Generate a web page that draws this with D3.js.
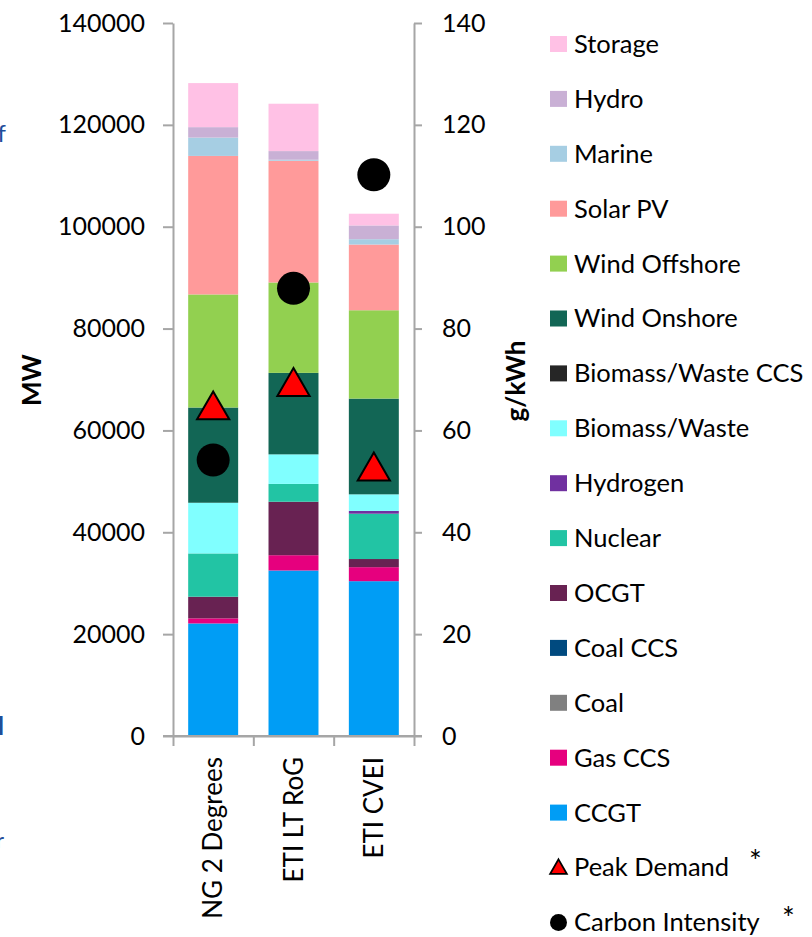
<!DOCTYPE html>
<html>
<head>
<meta charset="utf-8">
<script src="https://cdn.jsdelivr.net/npm/d3@7"></script>
<style>
  html, body { margin: 0; padding: 0; background: #fff; }
  svg { display: block; font-family: Lato, "Open Sans", sans-serif; }
</style>
</head>
<body>
<svg id="chart" width="812" height="937"></svg>
<script>
// ---- data ----
const categories = ["NG 2 Degrees", "ETI LT RoG", "ETI CVEI"];

// series, bottom of stack first
const seriesNames = ["CCGT", "Gas CCS", "Coal", "Coal CCS", "OCGT", "Nuclear", "Hydrogen",
  "Biomass/Waste", "Biomass/Waste CCS", "Wind Onshore", "Wind Offshore", "Solar PV",
  "Marine", "Hydro", "Storage"];
const seriesColors = ["#009df5", "#e6007e", "#808080", "#004a7f", "#682252", "#22c4a4", "#7030a0",
  "#80ffff", "#262626", "#126655", "#92d050", "#ff9a9a",
  "#a6cee3", "#c9b0d5", "#ffc1e5"];

const ccgt       = [22100, 32500, 30400];
const gasCCS     = [1000, 3000, 2750];
const coal       = [0, 0, 0];
const coalCCS    = [0, 0, 0];
const ocgt       = [4250, 10500, 1600];
const nuclear    = [8500, 3500, 8900];
const hydrogen   = [0, 0, 550];
const biomass    = [9950, 5800, 3250];
const biomassCCS = [0, 0, 0];
const windOn     = [18700, 16000, 18800];
const windOff    = [22200, 17750, 17350];
const solarPV    = [27200, 23900, 12900];
const marine     = [3600, 200, 1050];
const hydro      = [2050, 1700, 2700];
const storage    = [8650, 9300, 2300];

const peakDemand      = [64.6, 69.2, 52.6];   // g/kWh axis (right)
const carbonIntensity = [54.2, 87.9, 110.2];  // g/kWh axis (right)

const leftTicks  = [0, 20000, 40000, 60000, 80000, 100000, 120000, 140000];
const rightTicks = [0, 20, 40, 60, 80, 100, 120, 140];

const seriesValues = [ccgt, gasCCS, coal, coalCCS, ocgt, nuclear, hydrogen, biomass,
  biomassCCS, windOn, windOff, solarPV, marine, hydro, storage];

// ---- layout ----
const svg = d3.select("#chart");
const plotLeft = 173, plotRight = 414, plotTop = 23, plotBottom = 736;
const axisColor = "#a6a6a6";
const font = "Lato, 'Open Sans', sans-serif";

const x = d3.scaleBand().domain(categories).range([plotLeft, plotRight])
  .paddingInner(0.378).paddingOuter(0.189);
const y = d3.scaleLinear().domain([0, 140000]).range([plotBottom, plotTop]);
const y2 = d3.scaleLinear().domain([0, 140]).range([plotBottom, plotTop]);

// stack
const rows = categories.map((c, i) => {
  const r = { cat: c };
  seriesNames.forEach((s, j) => r[s] = seriesValues[j][i]);
  return r;
});
const stacked = d3.stack().keys(seriesNames)(rows);
const color = d3.scaleOrdinal().domain(seriesNames).range(seriesColors);

svg.append("g").selectAll("g").data(stacked).join("g")
  .attr("fill", d => color(d.key))
  .selectAll("rect").data(d => d).join("rect")
  .attr("x", d => x(d.data.cat))
  .attr("width", x.bandwidth())
  .attr("y", d => y(d[1]))
  .attr("height", d => Math.max(0, y(d[0]) - y(d[1])));

// left axis
const gL = svg.append("g").attr("transform", `translate(${plotLeft},0)`)
  .call(d3.axisLeft(y).tickValues(leftTicks).tickFormat(d3.format("d"))
    .tickSize(10).tickSizeOuter(0).tickPadding(18));
// right axis
const gR = svg.append("g").attr("transform", `translate(${plotRight},0)`)
  .call(d3.axisRight(y2).tickValues(rightTicks).tickFormat(d3.format("d"))
    .tickSize(8).tickSizeOuter(0).tickPadding(20));
// category boundary ticks
const xb = d3.scaleLinear().domain([0, categories.length]).range([plotLeft, plotRight]);
const gB = svg.append("g").attr("transform", `translate(0,${plotBottom})`)
  .call(d3.axisBottom(xb).tickValues(d3.range(categories.length + 1))
    .tickFormat("").tickSize(10).tickSizeOuter(0));
// category labels
const gC = svg.append("g").attr("transform", `translate(0,${plotBottom})`)
  .call(d3.axisBottom(x).tickSize(0).tickPadding(0));
gC.select(".domain").remove();
gC.selectAll("text")
  .attr("transform", "rotate(-90)")
  .attr("x", -21).attr("y", 0).attr("dy", "0.35em")
  .attr("text-anchor", "end");

[gL, gR, gB, gC].forEach(g => {
  g.selectAll(".domain").attr("stroke", axisColor).attr("stroke-width", 2);
  g.selectAll(".tick line").attr("stroke", axisColor).attr("stroke-width", 2);
  g.selectAll("text").attr("fill", "#000").attr("font-family", font).attr("font-size", 25);
});
gC.selectAll("text").attr("font-size", 26);
// x axis line, joined with the zero ticks
svg.append("line").attr("x1", plotLeft - 10).attr("x2", plotRight + 8)
  .attr("y1", y(0)).attr("y2", y(0)).attr("stroke", axisColor).attr("stroke-width", 2);

// axis titles
svg.append("text").attr("transform", `translate(41,380) rotate(-90)`)
  .attr("text-anchor", "middle").attr("font-family", font).attr("font-weight", "bold")
  .attr("font-size", 26).text("MW");
svg.append("text").attr("transform", `translate(525,381) rotate(-90)`)
  .attr("text-anchor", "middle").attr("font-family", font).attr("font-weight", "bold")
  .attr("font-size", 26).text("g/kWh");

// markers
const tri = d3.symbol().type(d3.symbolTriangle).size(450);
svg.append("g").selectAll("path").data(peakDemand).join("path")
  .attr("d", tri)
  .attr("transform", (d, i) => `translate(${x(categories[i]) + x.bandwidth() / 2},${y2(d) + 3})`)
  .attr("fill", "#ff0000").attr("stroke", "#000").attr("stroke-width", 2).attr("stroke-linejoin", "miter");
svg.append("g").selectAll("circle").data(carbonIntensity).join("circle")
  .attr("cx", (d, i) => x(categories[i]) + x.bandwidth() / 2)
  .attr("cy", d => y2(d))
  .attr("r", 16.5).attr("fill", "#000");

// legend
const legendItems = seriesNames.slice().reverse().map((s) => ({ name: s, type: "rect" }))
  .concat([{ name: "Peak Demand", type: "tri" }, { name: "Carbon Intensity", type: "circle" }]);
const lg = svg.append("g");
legendItems.forEach((it, i) => {
  const cy = 44 + i * 54.9;
  const g = lg.append("g").attr("transform", `translate(0,${cy})`);
  if (it.type === "rect") {
    g.append("rect").attr("x", 550).attr("y", -8).attr("width", 17).attr("height", 16)
      .attr("fill", color(it.name));
  } else if (it.type === "tri") {
    g.append("path").attr("d", d3.symbol().type(d3.symbolTriangle).size(120))
      .attr("transform", "translate(558.5,1.5)")
      .attr("fill", "#ff0000").attr("stroke", "#000").attr("stroke-width", 1.8);
  } else {
    g.append("circle").attr("cx", 558.5).attr("cy", 0).attr("r", 8.5).attr("fill", "#000");
  }
  g.append("text").attr("x", 574).attr("y", 0).attr("dy", "0.35em")
    .attr("font-family", font).attr("font-size", 25.5).attr("fill", "#000").text(it.name);
});
// asterisks
svg.append("text").attr("x", 749).attr("y", 872).attr("font-family", font)
  .attr("font-size", 30).text("*");
svg.append("text").attr("x", 782).attr("y", 929).attr("font-family", font)
  .attr("font-size", 30).text("*");

// cut-off text fragments at left edge
svg.append("text").attr("x", 6).attr("y", 142).attr("text-anchor", "end")
  .attr("font-family", font).attr("font-size", 24).attr("fill", "#1f4e9a").text("of");
svg.append("text").attr("x", -2).attr("y", 735).attr("font-family", font)
  .attr("font-weight", "bold").attr("font-size", 24).attr("fill", "#1f4e9a").text("l");
svg.append("text").attr("x", -4).attr("y", 848).attr("font-family", font)
  .attr("font-size", 22).attr("fill", "#1f4e9a").text("r");
</script>
</body>
</html>
